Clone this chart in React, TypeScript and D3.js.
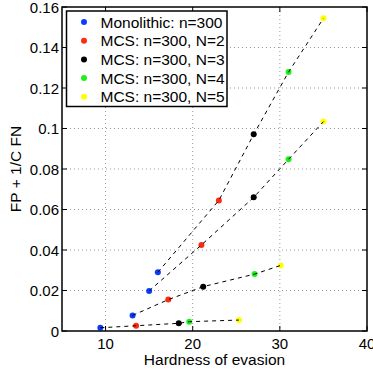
import * as d3 from 'd3'

const seriesNames = [
  'Monolithic: n=300',
  'MCS: n=300, N=2',
  'MCS: n=300, N=3',
  'MCS: n=300, N=4',
  'MCS: n=300, N=5',
]
const seriesColors = ['#0a3cff', '#ff2a10', '#000000', '#1ef01e', '#ffff00']

// hardness of evasion per series (4 operating points each)
const monoX = [9.4, 13.1, 15.0, 16.0]
const monoY = [0.0016, 0.0077, 0.0198, 0.029]
const n2X = [13.5, 17.2, 21.0, 23.0]
const n2Y = [0.0026, 0.0155, 0.0425, 0.0645]
const n3X = [18.4, 21.2, 27.0, 27.0]
const n3Y = [0.0038, 0.0219, 0.066, 0.0971]
const n4X = [19.6, 27.1, 31.0, 31.0]
const n4Y = [0.0046, 0.0281, 0.0848, 0.1279]
const n5X = [25.3, 30.1, 35.0, 35.0]
const n5Y = [0.0054, 0.0324, 0.1034, 0.1544]

const xTicks = [10, 20, 30, 40]
const yTicks = [0, 0.02, 0.04, 0.06, 0.08, 0.1, 0.12, 0.14, 0.16]

const allX = [monoX, n2X, n3X, n4X, n5X]
const allY = [monoY, n2Y, n3Y, n4Y, n5Y]

export default function App() {
  const width = 373
  const height = 370
  const left = 62
  const right = 367
  const top = 7
  const bottom = 331
  const font = '"Liberation Sans", Arial, Helvetica, sans-serif'

  const x = d3.scaleLinear().domain([5, 40]).range([left, right])
  const y = d3.scaleLinear().domain([0, 0.16]).range([bottom, top])

  // each dashed curve links the i-th point of every series
  const curves = monoX.map((_, i) => allX.map((xs, s) => [xs[i], allY[s][i]] as [number, number]))
  const line = d3.line<[number, number]>().x((d) => x(d[0])).y((d) => y(d[1]))

  const tick = 5

  return (
    <svg width={width} height={height} style={{ position: 'absolute', left: 0, top: 0, background: '#fff' }} fontFamily={font}>
      <rect x={left} y={top} width={right - left} height={bottom - top} fill="#fff" />
      {/* grid */}
      <g stroke="#999" strokeWidth={1} strokeDasharray="1,3">
        {xTicks.filter((t) => x(t) > left + 1 && x(t) < right - 1).map((t) => (
          <line key={'gx' + t} x1={x(t)} x2={x(t)} y1={top} y2={bottom} />
        ))}
        {yTicks.filter((t) => y(t) < bottom - 1 && y(t) > top + 1).map((t) => (
          <line key={'gy' + t} x1={left} x2={right} y1={y(t)} y2={y(t)} />
        ))}
      </g>

      {/* points */}
      {allX.map((xs, s) => xs.map((v, i) => (
        <circle key={`p${s}-${i}`} cx={x(v)} cy={y(allY[s][i])} r={3} fill={seriesColors[s]} />
      )))}

      {/* dashed curves */}
      {curves.map((c, i) => (
        <path key={'c' + i} d={line(c) || ''} fill="none" stroke="#000" strokeWidth={1} strokeDasharray="4,4" />
      ))}

      {/* ticks */}
      <g stroke="#000" strokeWidth={1}>
        {xTicks.map((t) => (
          <g key={'tx' + t}>
            <line x1={x(t)} x2={x(t)} y1={bottom} y2={bottom - tick} />
            <line x1={x(t)} x2={x(t)} y1={top} y2={top + tick} />
          </g>
        ))}
        {yTicks.map((t) => (
          <g key={'ty' + t}>
            <line x1={left} x2={left + tick} y1={y(t)} y2={y(t)} />
            <line x1={right} x2={right - tick} y1={y(t)} y2={y(t)} />
          </g>
        ))}
      </g>

      {/* box */}
      <rect x={left} y={top} width={right - left} height={bottom - top} fill="none" stroke="#000" strokeWidth={1.5} />

      {/* tick labels */}
      <g fontSize={15} fill="#000">
        {xTicks.map((t) => (
          <text key={'lx' + t} x={x(t)} y={349} textAnchor="middle">{t}</text>
        ))}
        {yTicks.map((t) => (
          <text key={'ly' + t} x={left - 3} y={y(t)} textAnchor="end" dominantBaseline="central">{t}</text>
        ))}
      </g>

      {/* axis labels */}
      <text x={(left + right) / 2} y={364.5} textAnchor="middle" fontSize={15.5}>Hardness of evasion</text>
      <text transform={`translate(21, ${(top + bottom) / 2}) rotate(-90)`} textAnchor="middle" fontSize={15.5}>FP + 1/C FN</text>

      {/* legend */}
      <rect x={66.5} y={11} width={160.5} height={95.5} fill="#fff" stroke="#000" strokeWidth={1.5} />
      {seriesNames.map((name, i) => (
        <g key={'lg' + i}>
          <circle cx={84} cy={22 + i * 18.7} r={3} fill={seriesColors[i]} />
          <text x={100.5} y={22 + i * 18.7} dominantBaseline="central" fontSize={15.5}>{name}</text>
        </g>
      ))}
    </svg>
  )
}
